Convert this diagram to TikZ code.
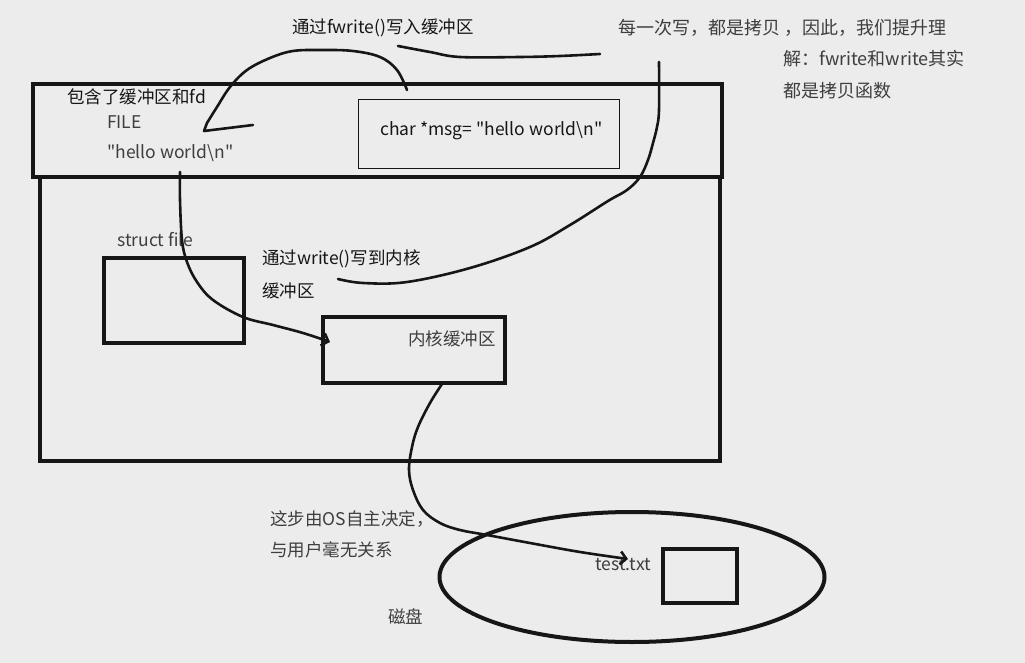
\documentclass[tikz,border=0pt]{standalone}
\usepackage{fontspec}
\setmainfont{Noto Sans CJK SC}
\newfontfamily\cjk{Noto Sans CJK SC}
\usetikzlibrary{shapes.geometric,arrows.meta}
\definecolor{paper}{RGB}{236,236,236}
\definecolor{ink}{RGB}{22,22,22}
\definecolor{pencil}{RGB}{62,62,62}
\begin{document}
\begin{tikzpicture}[x=1pt, y=-1pt,
  thickbox/.style={draw=ink, line width=4pt, inner sep=0pt, outer sep=0pt, anchor=north west},
  txt/.style={anchor=west, inner sep=0pt, text=ink, font=\cjk\fontsize{17.5}{21}\selectfont},
  softtxt/.style={txt, text=pencil},
  notetxt/.style={softtxt, font=\cjk\fontsize{18}{21}\selectfont},
  pen/.style={draw=ink, line width=2.6pt, line cap=round, line join=round},
  barb/.style={-{Straight Barb[length=6pt, width=13pt, line width=2.6pt]}}]
  \fill[paper] (0,0) rectangle (1025,663);
  \useasboundingbox (0,0) rectangle (1025,663);
  % boxes
  \node[thickbox, minimum width=680pt, minimum height=284pt] (proc) at (40,177) {};
  \node[thickbox, minimum width=689pt, minimum height=93pt] (filebuf) at (33,84) {};
  \node[draw=ink, line width=1.2pt, inner sep=0pt, anchor=north west, minimum width=261pt, minimum height=69pt] (msgbox) at (358,99) {};
  \node[thickbox, minimum width=140pt, minimum height=85pt] (structbox) at (104,258) {};
  \node[thickbox, minimum width=182pt, minimum height=66pt] (kernbox) at (323,317) {};
  \node[ellipse, draw=ink, line width=4pt, inner sep=0pt, minimum width=385pt, minimum height=130pt] (disk) at (632,577) {};
  \node[thickbox, minimum width=74pt, minimum height=54pt] (filebox) at (663,549) {};
  % texts
  \node[txt] (fwlabel) at (292,28) {通过fwrite()写入缓冲区};
  \node[notetxt] (noteA) at (618,28) {每一次写，都是拷贝 ，因此，我们提升理};
  \node[notetxt] (noteB) at (783,59) {解：fwrite和write其实};
  \node[notetxt] (noteC) at (783,91) {都是拷贝函数};
  \node[txt] (fdlabel) at (67,97) {包含了缓冲区和fd};
  \node[softtxt] (filelbl) at (107,122) {FILE};
  \node[softtxt] (hello) at (107,153) {"hello world\textbackslash n"};
  \node[txt] (msg) at (380,131) {char *msg= "hello world\textbackslash n"};
  \node[softtxt] (structlbl) at (117,240) {struct file};
  \node[txt] (wlabelA) at (262,259) {通过write()写到内核};
  \node[txt] (wlabelB) at (262,291) {缓冲区};
  \node[softtxt] (kernlbl) at (408,339) {内核缓冲区};
  \node[softtxt] (oslblA) at (270,519) {这步由OS自主决定，};
  \node[softtxt] (oslblB) at (270,550) {与用户毫无关系};
  \node[softtxt] (disklbl) at (388,617) {磁盘};
  \node[softtxt] (testlbl) at (595,565) {test.txt};
  % free ends of the strokes
  \coordinate (fwfrom) at (407,90);
  \coordinate (fwto) at (204,131);
  \coordinate (fwbarb) at (253,125);
  \coordinate (linefrom) at (398,46);
  \coordinate (lineto) at (600,54);
  \coordinate (wfrom) at (659,62);
  \coordinate (wto) at (338,279);
  \coordinate (hfrom) at (180,172);
  \coordinate (kto) at (330,342);
  \coordinate (kfrom) at (442,384);
  \coordinate (dto) at (628,559);
  % strokes
  \draw[pen] plot[smooth, tension=0.6] coordinates {(fwfrom) (397,70) (380,57) (353,51) (322,50) (293,51) (270,58) (247,70) (230,87) (217,107) (207,123)} -- (fwto) -- (fwbarb);
  \draw[pen] plot[smooth, tension=0.6] coordinates {(linefrom) (430,52) (460,57) (520,57) (560,56) (lineto)};
  \draw[pen] plot[smooth, tension=0.6] coordinates {(wfrom) (659,110) (657,127) (653,143) (648,160) (640,177) (627,190) (608,201) (570,225) (530,247) (470,268) (407,282) (363,283) (wto)};
  \draw[pen, barb] plot[smooth, tension=0.6] coordinates {(hfrom) (180,200) (182,240) (187,262) (197,282) (213,300) (243,317) (273,325) (303,333) (kto)};
  \draw[pen, barb] plot[smooth, tension=0.6] coordinates {(kfrom) (430,403) (418,427) (412,447) (409,470) (413,490) (423,510) (440,523) (460,530) (487,535) (530,543) (580,552) (dto)};
\end{tikzpicture}
\end{document}
